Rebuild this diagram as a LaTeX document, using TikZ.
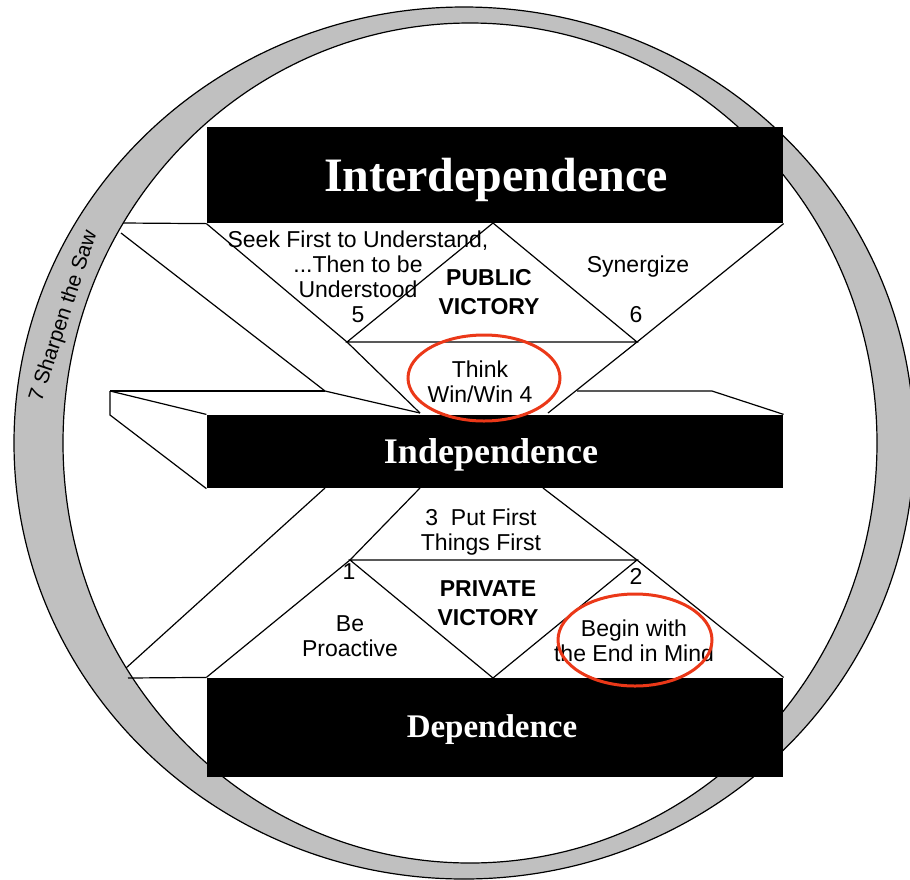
\documentclass[tikz,border=0pt]{standalone}
\usepackage{fontspec}
\setmainfont{Liberation Sans}
\newfontfamily\titlefont{Liberation Serif}
\definecolor{ringgray}{RGB}{192,192,192}
\definecolor{markred}{RGB}{235,56,24}

\begin{document}
\begin{tikzpicture}[x=0.5pt, y=-0.5pt, line width=0.6pt,
    levelbox/.style={fill=black, inner sep=0pt, minimum width=288pt},
    leveltext/.style={text=white, anchor=base},
    habit/.style={align=center, inner sep=0pt, font=\fontsize{11.5}{12.5}\selectfont},
    victory/.style={align=center, inner sep=0pt, font=\fontsize{11.5}{14.5}\selectfont\bfseries},
    circled/.style={draw=markred, line width=1.5pt}]
      \useasboundingbox (0, 0) rectangle (910, 879);
      \fill[ringgray, even odd rule]
        (464, 443) ellipse [x radius=450, y radius=436]
        (470, 443) ellipse [x radius=407, y radius=420];
      \draw (464, 443) ellipse [x radius=450, y radius=436];
      \draw (470, 443) ellipse [x radius=407, y radius=420];
      \path
        (123, 223) coordinate (saw1)
        (121, 233) coordinate (saw2)
        (126, 668) coordinate (saw3)
        (128, 678) coordinate (saw4)
        (493, 223) coordinate (apexpub)
        (347, 342) coordinate (v5)
        (637, 342) coordinate (v6)
        (420, 413) coordinate (l2end)
        (548, 413) coordinate (r1end)
        (110, 391) coordinate (backl)
        (325, 391) coordinate (backm)
        (577, 391) coordinate (backr)
        (712, 391) coordinate (backe)
        (110, 415) coordinate (sidebot)
        (325, 488) coordinate (b1)
        (420, 488) coordinate (b2)
        (543, 488) coordinate (b3)
        (350, 560) coordinate (v1)
        (637, 560) coordinate (v2)
        (493, 678) coordinate (apexpriv);
      \node[levelbox, minimum height=48pt] (interdep) at (495, 175) {};
      \node[levelbox, minimum height=36.5pt] (indep) at (495, 451.5) {};
      \node[levelbox, minimum height=49.5pt] (dep) at (495, 727.5) {};
      \begin{scope}
        \draw (saw1) -- (interdep.south west);
        \draw (saw2) -- (backm) -- (l2end);
        \draw (interdep.south west) -- (v5) -- (l2end);
        \draw (interdep.south east) -- (v6) -- (r1end);
        \draw (apexpub) -- (v5) -- (v6) -- cycle;
        \draw (backl) -- (backm);
        \draw (backr) -- (backe) -- (indep.north east);
        \draw (backl) -- (indep.north west);
        \draw (backl) -- (sidebot) -- (indep.south west);
        \draw (saw4) -- (dep.north west);
        \draw (b1) -- (saw3);
        \draw (b2) -- (v1) -- (dep.north west);
        \draw (b3) -- (v2) -- (dep.north east);
        \draw (v1) -- (v2) -- (apexpriv) -- cycle;
      \end{scope}
      \node[levelbox, minimum height=48pt] at (interdep) {};
      \node[levelbox, minimum height=36.5pt] at (indep) {};
      \node[levelbox, minimum height=49.5pt] at (dep) {};
      \node[leveltext, font=\titlefont\fontsize{24}{28}\selectfont\bfseries] (interdeptext) at (496, 191) {Interdependence};
      \node[leveltext, font=\titlefont\fontsize{18}{22}\selectfont\bfseries] (indeptext) at (491, 463) {Independence};
      \node[leveltext, font=\titlefont\fontsize{16.5}{20}\selectfont\bfseries] (deptext) at (492, 737) {Dependence};
      \node[habit] (seek) at (358, 277) {Seek First to Understand,\\...Then to be\\Understood\\5};
      \node[victory] (public) at (489, 292) {PUBLIC\\VICTORY};
      \node[habit] (synergize) at (638, 267) {Synergize};
      \node[habit] (six) at (636, 315) {6};
      \node[habit] (think) at (480, 382) {Think\\Win/Win 4};
      \node[habit] (putfirst) at (481, 532) {3\ \ Put First\\Things First};
      \node[habit] (one) at (349, 572) {1};
      \node[habit] (two) at (636, 576) {2};
      \node[victory] (private) at (488, 603) {PRIVATE\\VICTORY};
      \node[habit] (proactive) at (350, 636) {Be\\Proactive};
      \node[habit] (beginend) at (634, 641) {Begin with\\the End in Mind};
      \node[font=\fontsize{10.5}{12}\selectfont, rotate=72, inner sep=0pt] (saw) at (64, 316) {7 Sharpen the Saw};
      \draw[circled] (484, 378) ellipse [x radius=76, y radius=43];
      \draw[circled] (635, 640) ellipse [x radius=77, y radius=46];
    \end{tikzpicture}
\end{document}
